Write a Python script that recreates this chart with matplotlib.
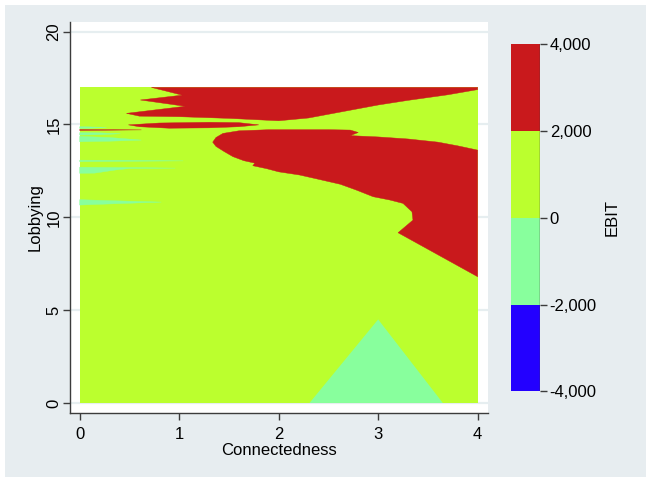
import matplotlib.pyplot as plt
from matplotlib.colors import ListedColormap, BoundaryNorm
from matplotlib.cm import ScalarMappable
from matplotlib.patches import Rectangle

plt.rcParams['font.family'] = ['Liberation Sans', 'DejaVu Sans']

# contour levels and fill colours (EBIT)
levels = [-4000, -2000, 0, 2000, 4000]
level_colors = ['#2300ff', '#88ff9d', '#bbff2e', '#c9191c']

# extent of the estimated surface
x_range = [0, 4]
y_range = [0, 17]

# region boundaries (Connectedness, Lobbying)
red_top_x = [0.72, 1.03, 0.61, 1.06, 0.47, 0.6, 1.0, 1.5, 2.0, 2.3, 2.6, 3.0, 3.3, 3.7, 4.0, 4.0]
red_top_y = [17.0, 16.58, 16.32, 15.98, 15.6, 15.45, 15.42, 15.33, 15.2, 15.35, 15.65, 16.05, 16.3, 16.6, 16.88, 17.0]

red_sliver_x = [0.49, 0.8, 1.3, 1.6, 1.8, 1.6, 1.3, 0.9, 0.6]
red_sliver_y = [14.98, 15.08, 15.12, 15.1, 14.98, 14.88, 14.82, 14.8, 14.88]

red_line_x = [0.0, 0.0, 0.62]
red_line_y = [14.68, 14.73, 14.71]

red_mid_x = [1.337, 1.37, 1.44, 1.6, 1.9, 2.5, 2.72, 2.8, 2.72, 3.0, 3.3, 3.6, 3.8, 4.0,
             4.0, 3.2, 3.35, 3.34, 3.25, 3.12, 2.95, 2.78, 2.62, 2.4, 2.21, 2.0, 1.88,
             1.74, 1.76, 1.65, 1.54, 1.45, 1.37]
red_mid_y = [14.05, 14.3, 14.52, 14.66, 14.72, 14.72, 14.7, 14.57, 14.4, 14.33, 14.22, 14.05, 13.85, 13.62,
             6.8, 9.17, 9.85, 10.3, 10.75, 10.93, 11.11, 11.47, 11.78, 12.05, 12.28, 12.45, 12.62,
             12.78, 12.92, 13.05, 13.27, 13.55, 13.82]

teal_tri_x = [2.31, 3.0, 3.65]
teal_tri_y = [0.0, 4.5, 0.0]

teal_spikes = [
    ([0, 0.1, 0.27, 0.1, 0], [14.79, 14.8, 14.84, 14.87, 14.88]),
    ([0, 0.2, 0.41, 0.2, 0], [14.43, 14.45, 14.5, 14.55, 14.56]),
    ([0, 0.3, 0.62, 0.3, 0], [14.07, 14.1, 14.16, 14.3, 14.36]),
    ([0, 0.5, 1.04, 0.5, 0], [13.0, 13.02, 13.04, 13.07, 13.08]),
    ([0, 0.15, 0.2, 0.36, 0.5, 0.96, 0.5, 0], [12.37, 12.38, 12.42, 12.55, 12.63, 12.65, 12.68, 12.7]),
    ([0, 0.3, 0.82, 0.3, 0], [10.66, 10.72, 10.82, 10.9, 10.95]),
]

x_ticks = [0, 1, 2, 3, 4]
y_ticks = [0, 5, 10, 15, 20]

axis_col = '#3c3c3c'
bg_col = '#e7edf0'

fig = plt.figure(figsize=(6.51, 4.79), dpi=100)
fig.patch.set_facecolor('white')
fig.patches.append(Rectangle((0.008, 0.004), 0.984, 0.986, transform=fig.transFigure,
                             facecolor=bg_col, edgecolor='none', zorder=-10))

ax = fig.add_axes([0.1072, 0.1378, 0.6424, 0.817])
ax.set_facecolor('white')

cmap = ListedColormap(level_colors)
norm = BoundaryNorm(levels, cmap.N)

def col(v):
    return cmap(norm(v))

# base level (0 .. 2,000)
ax.fill([x_range[0], x_range[1], x_range[1], x_range[0]],
        [y_range[0], y_range[0], y_range[1], y_range[1]], color=col(1000), lw=0)
for xs, ys in [(red_top_x, red_top_y), (red_sliver_x, red_sliver_y),
               (red_line_x, red_line_y), (red_mid_x, red_mid_y)]:
    ax.fill(xs, ys, color=col(3000), lw=0.3, ec=col(3000))
ax.fill(teal_tri_x, teal_tri_y, color=col(-1000), lw=0)
for xs, ys in teal_spikes:
    ax.fill(xs, ys, color=col(-1000), lw=0.3, ec=col(-1000))

ax.set_xlim(-0.0995, 4.104)
ax.set_ylim(-0.54, 20.54)
ax.set_xticks(x_ticks)
ax.set_yticks(y_ticks)
ax.set_axisbelow(True)
ax.grid(axis='y', color='#e6eef0', lw=1.6)
ax.grid(axis='x', visible=False)
for s in ['top', 'right']:
    ax.spines[s].set_visible(False)
for s in ['left', 'bottom']:
    ax.spines[s].set_color(axis_col)
    ax.spines[s].set_linewidth(1.0)
ax.tick_params(colors=axis_col, labelcolor='black', labelsize=12, length=5, width=1.0)
ax.tick_params(axis='x', pad=5)
ax.tick_params(axis='y', pad=1)
plt.setp(ax.get_yticklabels(), rotation=90, va='center')
ax.set_xlabel('Connectedness', fontsize=12, labelpad=1)
ax.set_ylabel('Lobbying', fontsize=12, labelpad=3)

cax = fig.add_axes([0.785, 0.1827, 0.0445, 0.7255])
sm = ScalarMappable(norm=norm, cmap=cmap)
cb = fig.colorbar(sm, cax=cax, ticks=levels)
cb.outline.set_visible(False)
cax.axvline(1, color=axis_col, lw=1.0)
cax.set_yticklabels([f'{v:,}' for v in levels])
cax.tick_params(colors=axis_col, labelcolor='black', labelsize=12, length=5, width=1.0, pad=2)
fig.text(0.94, 0.545, 'EBIT', rotation=90, fontsize=12, ha='center', va='center')

fig.savefig('out.png', dpi=100, facecolor=fig.get_facecolor())
